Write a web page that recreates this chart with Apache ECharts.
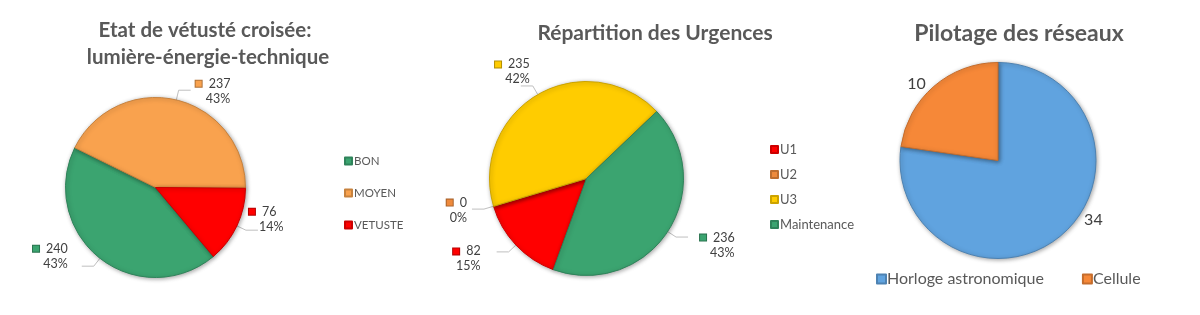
<!DOCTYPE html>
<html>
<head>
<meta charset="utf-8">
<script src="https://cdn.jsdelivr.net/npm/echarts@6/dist/echarts.min.js"></script>
<style>
html,body{margin:0;padding:0;background:#fff;}
#c{width:1200px;height:315px;}
</style>
</head>
<body>
<div id="c"></div>
<script>
// ---- Data ----
const etatTitleLines = ['Etat de vétusté croisée:', 'lumière-énergie-technique'];
const etatCats = ['BON', 'MOYEN', 'VETUSTE'];
const etatVals = [240, 237, 76];
const etatColors = ['#3BA470', '#F9A24E', '#FF0000'];

const urgTitle = 'Répartition des Urgences';
const urgCats = ['U1', 'U2', 'U3', 'Maintenance'];
const urgVals = [82, 0, 235, 236];
const urgColors = ['#FF0000', '#EE8A3C', '#FFCC00', '#3BA470'];

const pilTitle = 'Pilotage des réseaux';
const pilCats = ['Horloge astronomique', 'Cellule'];
const pilVals = [34, 10];
const pilColors = ['#60A3DF', '#F68838'];

// label nudges (style only: [dx, dy] per data item)
const etatNudge = [[-9, -9], [0, 2], [-14, -10]];
const urgNudge = [[-11, 8], [0, 2], [14, -13], [7, 9]];
const pilNudge = [[13, -19], [1, 2]];

// ---- Helpers ----
const FONT = 'Lato, "Open Sans", sans-serif';
function darker(hex, f) {
  const n = parseInt(hex.slice(1), 16);
  const r = Math.round(((n >> 16) & 255) * f), g = Math.round(((n >> 8) & 255) * f), b = Math.round((n & 255) * f);
  return 'rgb(' + r + ',' + g + ',' + b + ')';
}
function buildData(cats, vals, colors) {
  return cats.map((c, i) => ({
    name: c, value: vals[i],
    itemStyle: { color: colors[i], borderColor: darker(colors[i], 0.8) },
    label: { rich: { sq: { width: 6, height: 6, backgroundColor: colors[i], borderColor: darker(colors[i], 0.7), borderWidth: 1 } } }
  }));
}
const richBase = {
  sq: { width: 6, height: 6 },
  v: { fontSize: 12.5, color: '#404040', fontFamily: FONT, padding: [0, 0, 0, 7] },
  pad: { width: 10 },
  p: { fontSize: 12.5, color: '#404040', fontFamily: FONT, lineHeight: 17 }
};
function richFormatter(p) {
  return '{sq|}{v|' + p.value + '}\n{pad|}{p|' + Math.round(p.percent) + '%}';
}
function nudger(arr) {
  return function (params) {
    const d = arr[params.dataIndex] || [0, 0];
    return { dx: d[0], dy: d[1] };
  };
}
const pieShadow = { shadowBlur: 4, shadowColor: 'rgba(0,0,0,0.35)', shadowOffsetX: 1, shadowOffsetY: 1, borderWidth: 1 };
const titleStyle = (size) => ({ fontFamily: FONT, fontSize: size, fontWeight: 'bold', color: '#595959' });

const chart = echarts.init(document.getElementById('c'), null, { renderer: 'canvas' });
chart.setOption({
  backgroundColor: '#ffffff',
  animation: false,
  title: [
    { text: etatTitleLines[0], left: 200, top: 15, textAlign: 'center', textStyle: titleStyle(20.5) },
    { text: etatTitleLines[1], left: 203, top: 42, textAlign: 'center', textStyle: titleStyle(20.5) },
    { text: urgTitle, left: 650, top: 18, textAlign: 'center', textStyle: titleStyle(21) },
    { text: pilTitle, left: 1014, top: 17, textAlign: 'center', textStyle: titleStyle(23) }
  ],
  legend: [
    { data: etatCats, orient: 'vertical', left: 339, top: 150, icon: 'rect', itemWidth: 7, itemHeight: 7, itemGap: 20,
      textStyle: { fontFamily: FONT, fontSize: 11.5, color: '#595959', padding: [0, 0, 0, -3] } },
    { data: urgCats, orient: 'vertical', left: 765, top: 138, icon: 'rect', itemWidth: 7, itemHeight: 7, itemGap: 12,
      textStyle: { fontFamily: FONT, fontSize: 13, color: '#595959', padding: [0, 0, 0, -3] } },
    { data: pilCats, orient: 'horizontal', left: 871, top: 266, icon: 'rect', itemWidth: 9, itemHeight: 9, itemGap: 38,
      textStyle: { fontFamily: FONT, fontSize: 16, color: '#595959', padding: [0, 0, 0, -4] } }
  ],
  series: [
    {
      type: 'pie', center: [155.5, 187.5], radius: 90, startAngle: -50, clockwise: true,
      percentPrecision: 0,
      data: buildData(etatCats, etatVals, etatColors),
      itemStyle: pieShadow,
      label: { position: 'outside', formatter: richFormatter, rich: richBase, align: 'left' },
      labelLine: { show: true, length: 10, length2: 12, lineStyle: { color: '#BFBFBF', width: 1 } },
      labelLayout: nudger(etatNudge)
    },
    {
      type: 'pie', center: [586.5, 178.5], radius: 97, startAngle: -110, clockwise: true,
      percentPrecision: 0, minShowLabelAngle: 0, stillShowZeroSum: true,
      data: buildData(urgCats, urgVals, urgColors),
      itemStyle: pieShadow,
      label: { position: 'outside', formatter: richFormatter, rich: richBase, align: 'left' },
      labelLine: { show: true, length: 10, length2: 12, lineStyle: { color: '#BFBFBF', width: 1 } },
      labelLayout: nudger(urgNudge)
    },
    {
      type: 'pie', center: [998, 160.5], radius: 98, startAngle: 90, clockwise: true,
      data: buildData(pilCats, pilVals, pilColors),
      itemStyle: pieShadow,
      label: { position: 'outside', formatter: '{c}', fontFamily: FONT, fontSize: 16, color: '#404040' },
      labelLine: { show: false, length: 6, length2: 0 },
      labelLayout: nudger(pilNudge)
    }
  ]
});
</script>
</body>
</html>
